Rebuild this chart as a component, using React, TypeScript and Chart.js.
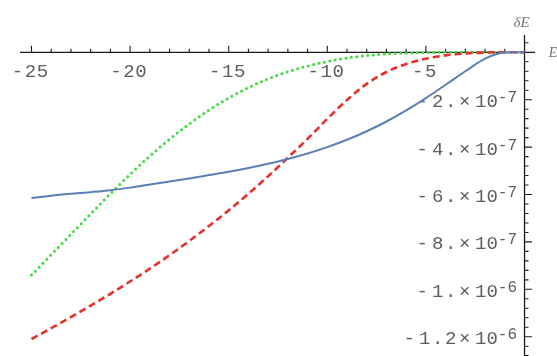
import { useEffect, useRef } from 'react';
import { Chart, registerables } from 'chart.js';

Chart.register(...registerables);

// Energy grid E (x axis)
const ENERGY = [-25, -24, -23, -22, -21, -20, -19, -18, -17, -16, -15, -14, -13, -12, -11, -10, -9, -8, -7, -6, -5, -4, -3, -2, -1, 0];

// δE for the three cases
const DELTA_SOLID = [-6.15e-7, -6.05e-7, -5.97e-7, -5.9e-7, -5.82e-7, -5.71e-7, -5.58e-7, -5.45e-7, -5.32e-7, -5.18e-7, -5.04e-7, -4.88e-7, -4.7e-7, -4.5e-7, -4.27e-7, -4.0e-7, -3.69e-7, -3.33e-7, -2.92e-7, -2.45e-7, -1.93e-7, -1.37e-7, -0.8e-7, -0.27e-7, -0.01e-7, 0];
const DELTA_DASHED = [-12.1e-7, -11.64e-7, -11.17e-7, -10.69e-7, -10.19e-7, -9.67e-7, -9.13e-7, -8.56e-7, -7.96e-7, -7.33e-7, -6.67e-7, -5.97e-7, -5.23e-7, -4.45e-7, -3.65e-7, -2.81e-7, -2.01e-7, -1.33e-7, -0.83e-7, -0.49e-7, -0.27e-7, -0.13e-7, -0.05e-7, -0.01e-7, 0, 0];
const DELTA_DOTTED = [-9.4e-7, -8.54e-7, -7.68e-7, -6.82e-7, -5.97e-7, -5.15e-7, -4.38e-7, -3.67e-7, -3.02e-7, -2.44e-7, -1.93e-7, -1.49e-7, -1.12e-7, -0.82e-7, -0.58e-7, -0.39e-7, -0.24e-7, -0.14e-7, -0.07e-7, -0.035e-7, -0.015e-7, 0, 0, 0, 0, 0];

// Axis ticks
const X_MAJOR_TICKS = [-25, -20, -15, -10, -5];
const X_TICK_LABELS = ['-25', '-20', '-15', '-10', '-5'];
const Y_MAJOR_TICKS = [-2e-7, -4e-7, -6e-7, -8e-7, -1e-6, -1.2e-6];
const Y_TICK_MANTISSA = ['-2.', '-4.', '-6.', '-8.', '-1.', '-1.2'];
const Y_TICK_EXPONENT = ['-7', '-7', '-7', '-7', '-6', '-6'];

// Visible window of the plot
const X_MIN = -25.583;
const X_MAX = 0.532;
const Y_MIN = -1.2814e-6;
const Y_MAX = 7.3e-8;

const MONO = '"Liberation Mono", "DejaVu Sans Mono", monospace';
const LABEL_FONT = `19px ${MONO}`;
const SUP_FONT = `16px ${MONO}`;
const TITLE_FONT = 'italic 15px "Liberation Serif", "DejaVu Serif", serif';
const LABEL_COLOR = '#5e5e5e';

const toPoints = (ys: number[]) => ENERGY.map((x, i) => ({ x, y: ys[i] }));

// Draws a signed number glyph by glyph, with a wider gap after the minus sign.
// `lastCenter` is the centre of the final glyph; returns the centre of the first one.
function drawSpacedNumber(ctx: CanvasRenderingContext2D, text: string, lastCenter: number, y: number, step: number, minusStep: number) {
  ctx.textAlign = 'center';
  let cx = lastCenter;
  for (let i = text.length - 1; i >= 0; i -= 1) {
    ctx.fillText(text[i], cx, y);
    if (i > 0) cx -= text[i - 1] === '-' ? minusStep : step;
  }
  return cx;
}

// Axes crossing at the origin, with major/minor ticks pointing inward
const originAxes = {
  id: 'originAxes',
  beforeDatasetsDraw(chart: any) {
    const { ctx, chartArea, scales } = chart;
    const xs = scales.x;
    const ys = scales.y;
    const x0 = xs.getPixelForValue(0);
    const y0 = ys.getPixelForValue(0);
    ctx.save();
    ctx.strokeStyle = '#1c1c1c';
    ctx.lineWidth = 1.3;

    ctx.beginPath();
    ctx.moveTo(chartArea.left, y0);
    ctx.lineTo(chartArea.right, y0);
    ctx.moveTo(x0, chartArea.top);
    ctx.lineTo(x0, chartArea.bottom);
    ctx.stroke();

    // x ticks: every unit, longer on labelled ones
    ctx.lineWidth = 1.1;
    ctx.beginPath();
    for (let v = -25; v < 0; v += 1) {
      const px = xs.getPixelForValue(v);
      const len = X_MAJOR_TICKS.includes(v) ? 6.5 : 3.5;
      ctx.moveTo(px, y0);
      ctx.lineTo(px, y0 - len);
    }
    // y ticks: every 4e-8, longer on labelled ones
    for (let k = 1; k >= -32; k -= 1) {
      if (k === 0) continue;
      const py = ys.getPixelForValue(k * 4e-8);
      if (py < chartArea.top || py > chartArea.bottom) continue;
      const len = k % 5 === 0 ? 7.5 : 4;
      ctx.moveTo(x0, py);
      ctx.lineTo(x0 + len, py);
    }
    ctx.stroke();

    ctx.fillStyle = LABEL_COLOR;
    ctx.textBaseline = 'alphabetic';

    // x tick labels, centred under their ticks
    ctx.font = LABEL_FONT;
    X_MAJOR_TICKS.forEach((v, i) => {
      const label = X_TICK_LABELS[i];
      const digits = label.length - 1;
      const span = 13 + (digits - 1) * 12 + 3.5 + 5.7;
      const left = xs.getPixelForValue(v) - 0.5 - span / 2;
      const lastCenter = left + 3.5 + 13 + (digits - 1) * 12;
      drawSpacedNumber(ctx, label, lastCenter, y0 + 24.5, 12, 13);
    });

    // y tick labels: mantissa × 10 with a raised exponent
    Y_MAJOR_TICKS.forEach((v, i) => {
      const py = ys.getPixelForValue(v) + 7.5;
      const right = x0 - 7.5;
      ctx.font = SUP_FONT;
      ctx.textAlign = 'right';
      const supW = ctx.measureText(Y_TICK_EXPONENT[i]).width;
      ctx.fillText(Y_TICK_EXPONENT[i], right, py - 5);
      ctx.font = LABEL_FONT;
      const tenRight = right - supW;
      ctx.fillText('10', tenRight, py);
      const tenW = ctx.measureText('10').width;
      const oneCenter = tenRight - tenW + tenW / 4;
      ctx.textAlign = 'center';
      ctx.fillText('×', oneCenter - 16, py);
      drawSpacedNumber(ctx, Y_TICK_MANTISSA[i], oneCenter - 30, py, 13, 15.5);
    });

    // axis names
    ctx.fillStyle = '#777';
    ctx.font = TITLE_FONT;
    ctx.textAlign = 'center';
    ctx.fillText('δE', x0 - 3, 27);
    ctx.textAlign = 'left';
    ctx.fillText('E', x0 + 24, y0 + 5);
    ctx.restore();
  },
};

export default function App() {
  const canvasRef = useRef<HTMLCanvasElement>(null);

  useEffect(() => {
    const chart = new Chart(canvasRef.current as HTMLCanvasElement, {
      type: 'line',
      data: {
        datasets: [
          {
            data: toPoints(DELTA_SOLID),
            borderColor: '#5c7fb8',
            borderWidth: 2,
            cubicInterpolationMode: 'monotone',
          },
          {
            data: toPoints(DELTA_DASHED),
            borderColor: '#e8302b',
            borderWidth: 2.6,
            borderDash: [7, 4],
            cubicInterpolationMode: 'monotone',
          },
          {
            data: toPoints(DELTA_DOTTED),
            borderColor: '#38dd38',
            borderWidth: 3,
            borderDash: [0, 5.5],
            borderCapStyle: 'round',
            cubicInterpolationMode: 'monotone',
          },
        ],
      },
      options: {
        animation: false,
        responsive: false,
        layout: { padding: { left: 20, right: 22, top: 35, bottom: 0 } },
        elements: { point: { radius: 0 } },
        plugins: { legend: { display: false }, tooltip: { enabled: false } },
        scales: {
          x: { type: 'linear', min: X_MIN, max: X_MAX, display: false },
          y: { type: 'linear', min: Y_MIN, max: Y_MAX, display: false },
        },
      },
      plugins: [originAxes],
    } as any);
    return () => chart.destroy();
  }, []);

  return (
    <div style={{ position: 'fixed', left: 0, top: 0, width: 557, height: 356, background: '#fff' }}>
      <canvas ref={canvasRef} width={557} height={356} style={{ display: 'block' }} />
    </div>
  );
}
